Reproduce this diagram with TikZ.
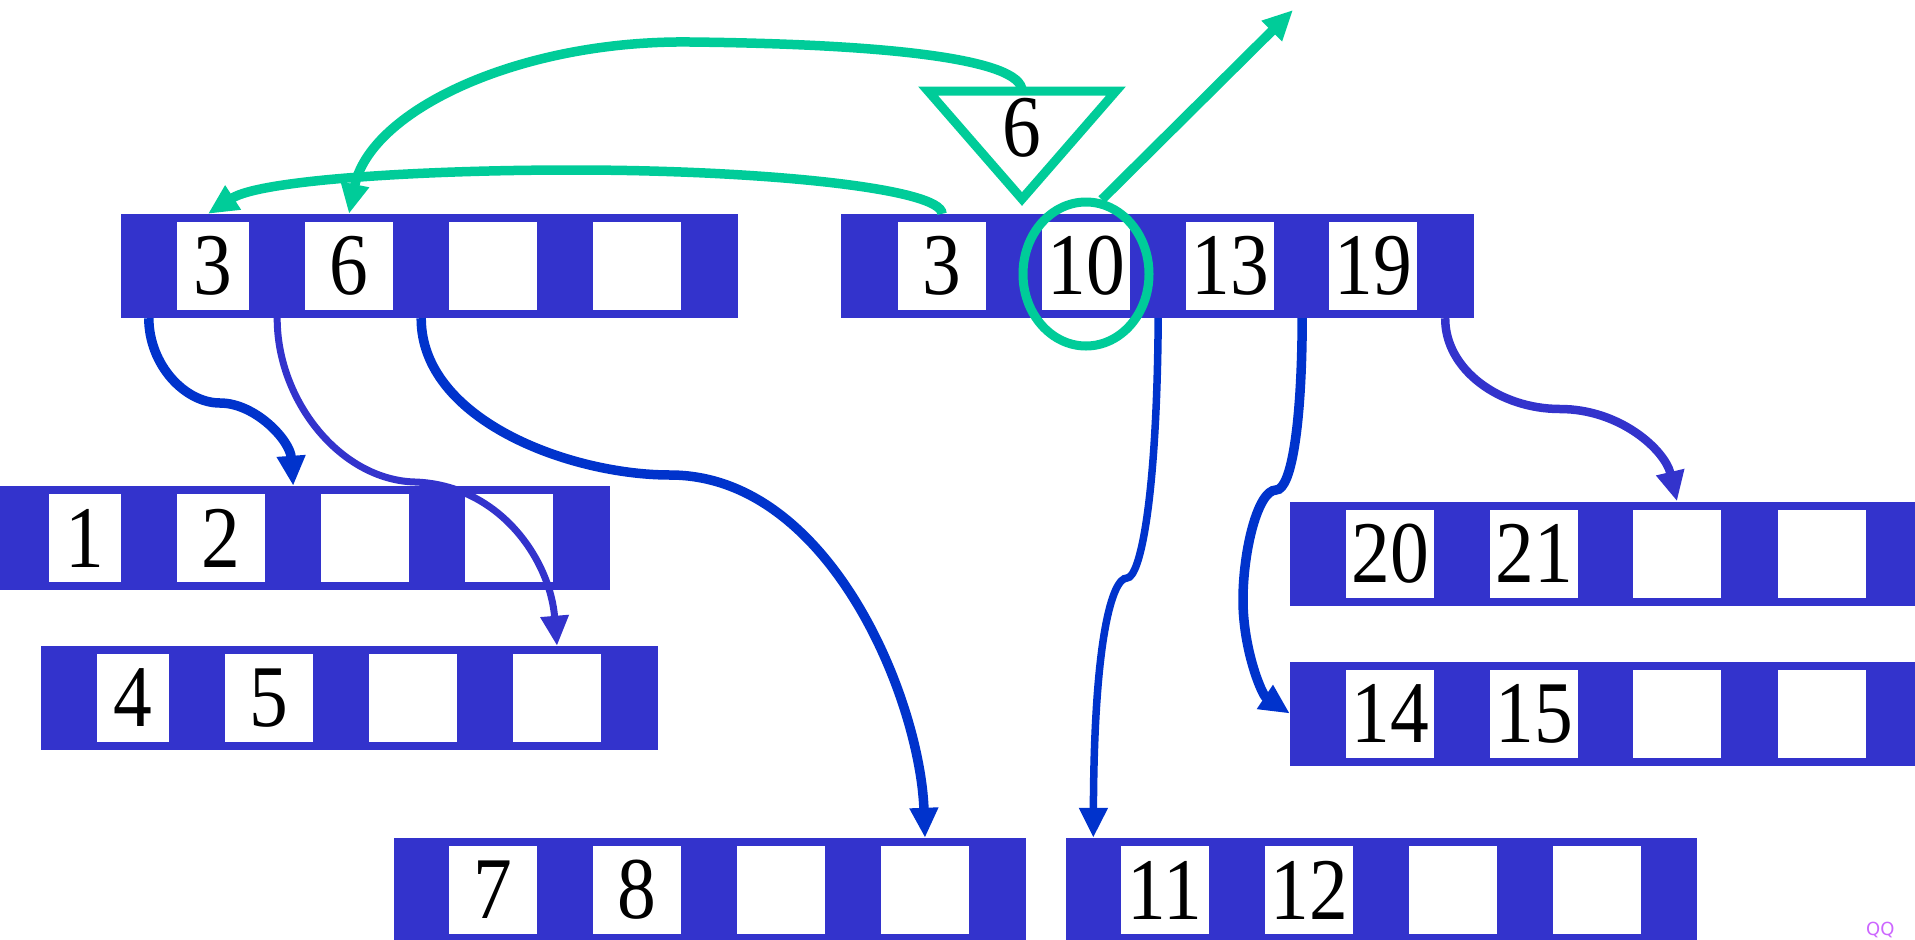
\documentclass[tikz,border=0pt]{standalone}
\usepackage{fontspec}
\newfontfamily\digitfont[FakeStretch=0.88]{Liberation Serif}
\newfontfamily\qqfont{DejaVu Sans}
\usetikzlibrary{arrows.meta,shapes.geometric,calc}
\definecolor{barblue}{HTML}{3333CC}
\definecolor{linkblue}{HTML}{0033CC}
\definecolor{mint}{HTML}{00CC99}
\definecolor{qqviolet}{HTML}{CC66FF}
\begin{document}
\begin{tikzpicture}[x=1pt,y=-1pt,
  bar/.style={fill=barblue, inner sep=0pt, minimum height=104pt},
  cell/.style={fill=white, inner sep=0pt, minimum width=88pt, minimum height=88pt,
    font=\digitfont\fontsize{88}{88}\selectfont},
  ncell/.style={cell, minimum width=72pt},
  tip/.style={-{Triangle[length=30pt,width=27pt]}},
  link/.style={draw=linkblue, line width=9.5pt, tip},
  midlink/.style={draw=linkblue, line width=7.5pt, tip},
  plink/.style={draw=barblue, line width=8.5pt, tip},
  thinlink/.style={draw=barblue, line width=7pt, tip},
  glink/.style={draw=mint, line width=9.5pt, tip}
]
\useasboundingbox (0,0) rectangle (1915,940);
\clip (0,0) rectangle (1915,940);

% ---- bars ----
\node[bar, minimum width=617pt] (A) at (429.5,266) {};
\node[bar, minimum width=633pt] (B) at (1157.5,266) {};
\node[bar, minimum width=617pt] (C) at (301.5,538) {};
\node[bar, minimum width=617pt] (D) at (349.5,698) {};
\node[bar, minimum width=632pt] (E) at (710,890) {};
\node[bar, minimum width=631pt] (F) at (1381.5,890) {};
\node[bar, minimum width=633pt] (G) at (1606.5,553.5) {};
\node[bar, minimum width=633pt] (H) at (1606.5,713.5) {};

% ---- cells ----
\node[ncell] (A1) at (213,266) {3};
\node[cell] (A2) at (349,266) {6};
\node[cell] (A3) at (493,266) {};
\node[cell] (A4) at (637,266) {};

\node[cell] (B1) at (942,266) {3};
\node[cell] (B2) at (1086,266) {10};
\node[cell] (B3) at (1230,266) {13};
\node[cell] (B4) at (1373,266) {19};

\node[ncell] (C1) at (85,538) {1};
\node[cell] (C2) at (221,538) {2};
\node[cell] (C3) at (365,538) {};
\node[cell] (C4) at (509,538) {};

\node[ncell] (D1) at (133,698) {4};
\node[cell] (D2) at (269,698) {5};
\node[cell] (D3) at (413,698) {};
\node[cell] (D4) at (557,698) {};

\node[cell] (E1) at (493,890) {7};
\node[cell] (E2) at (637,890) {8};
\node[cell] (E3) at (781,890) {};
\node[cell] (E4) at (925,890) {};

\node[cell] (F1) at (1165,890) {11};
\node[cell] (F2) at (1309,890) {12};
\node[cell] (F3) at (1453,890) {};
\node[cell] (F4) at (1597,890) {};

\node[cell] (G1) at (1390,553.5) {20};
\node[cell] (G2) at (1534,553.5) {21};
\node[cell] (G3) at (1677,553.5) {};
\node[cell] (G4) at (1822,553.5) {};

\node[cell] (H1) at (1390,713.5) {14};
\node[cell] (H2) at (1534,713.5) {15};
\node[cell] (H3) at (1677,713.5) {};
\node[cell] (H4) at (1822,713.5) {};

% ---- green marks ----
\node[draw=mint, line width=9pt, ellipse, inner sep=0pt,
      minimum width=126pt, minimum height=144pt] (ell) at (1086,274) {};
\coordinate (T1) at (928,91);
\coordinate (T2) at (1116,91);
\coordinate (T3) at (1022,199);
\draw[mint, line width=9pt, line join=miter] (T1) -- (T2) -- (T3) -- cycle;
\node[font=\digitfont\fontsize{88}{88}\selectfont, inner sep=0pt] (tri) at (1022,128) {6};
\coordinate (gtip) at (1293,10);

% ---- blue connectors ----
\draw[link] ($(A.south west)+(28,0)$)
  .. controls (149,365) and (185,403) .. (220,403)
  .. controls (255,403) and (290,440) .. ($(C.north -| C2.east)+(28,0)$);
\draw[thinlink] ($(A.south -| A1.east)+(28,0)$)
  .. controls (277,400) and (340,480) .. (415,482)
  .. controls (500,485) and (550,560) .. (D.north -| D4);
\draw[link] ($(A.south -| A2.east)+(28,0)$)
  .. controls (421,420) and (570,475) .. (670,475)
  .. controls (830,475) and (920,700) .. (E.north -| E4);
\draw[midlink] ($(B.south -| B2.east)+(28,0)$)
  .. controls (1157,500) and (1140,578) .. (1127,578)
  .. controls (1112,578) and (1094,640) .. ($(F.north west)+(27.5,0)$);
\draw[link] ($(B.south -| B3.east)+(28,0)$)
  .. controls (1302,420) and (1292,490) .. (1276,490)
  .. controls (1258,490) and (1243,550) .. (1243,600)
  .. controls (1243,650) and (1262,695) .. (H.west);
\draw[plink] ($(B.south -| B4.east)+(28,0)$)
  .. controls (1445,370) and (1500,409) .. (1560,409)
  .. controls (1620,409) and (1665,450) .. (G.north -| G3);

% ---- green connectors ----
\draw[glink] ($(T1)!.5!(T2)$)
  .. controls (1022,58) and (880,44) .. (690,42)
  .. controls (520,40) and (370,110) .. (A.north -| A2);
\draw[glink] (B.north -| B1)
  .. controls (942,188) and (760,170) .. (573,170)
  .. controls (420,170) and (260,180) .. ($(A.north -| A1)+(-5,0)$);
\draw[glink] (ell.78) -- (gtip);

% ---- small mark ----
\node[anchor=base west, inner sep=0pt, text=qqviolet,
      font=\qqfont\fontsize{18}{18}\selectfont] (qq) at (1866,935) {QQ};
\end{tikzpicture}
\end{document}
